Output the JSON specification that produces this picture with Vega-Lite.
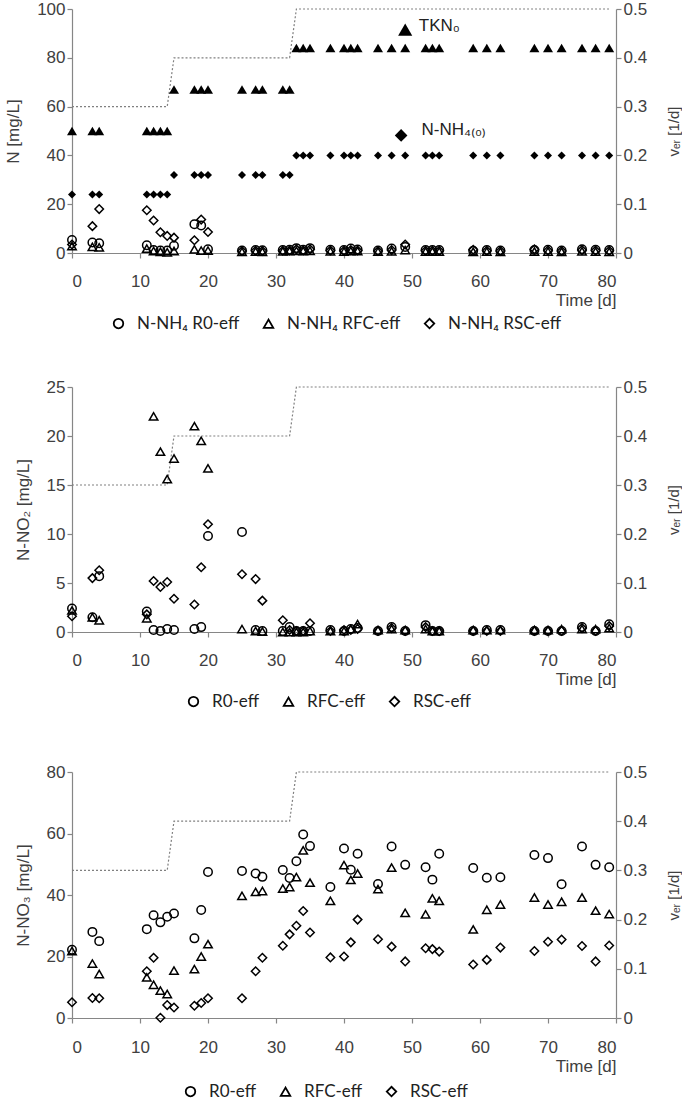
{
  "$schema": "https://vega.github.io/schema/vega-lite/v6.json",
  "padding": {"left": 4, "top": 0, "right": 0, "bottom": 0},
  "spacing": 46,
  "config": {
    "view": {"stroke": null},
    "font": "Liberation Sans",
    "axis": {"grid": false, "domainColor": "#868686", "tickColor": "#868686", "labelColor": "#404040", "titleColor": "#404040", "labelFontSize": 17, "titleFontSize": 17, "titleFontWeight": "normal", "tickSize": 5, "labelFont": "Liberation Sans", "titleFont": "Liberation Sans", "domainWidth": 1.2, "tickWidth": 1.2},
    "legend": {"labelFont": "Lato", "labelFontSize": 17, "labelColor": "#222222", "symbolStrokeColor": "black", "symbolStrokeWidth": 1.8, "symbolSize": 90, "columnPadding": 20, "labelOffset": 10}
  },
  "resolve": {"scale": {"shape": "independent"}, "legend": {"shape": "independent"}},
  "datasets": {
    "ver": [{"t":0,"ver":0.3},{"t":14,"ver":0.3},{"t":15,"ver":0.4},{"t":32,"ver":0.4},{"t":33,"ver":0.5},{"t":79,"ver":0.5}],
    "ann_sym": [{"t":49,"v":91.5,"s":"TKN0"},{"t":48.4,"v":48.2,"s":"NH40"}],
    "ann_txt": [{"t":51,"v":93,"label":"TKN₀"},{"t":51.4,"v":50.5,"label":"N-NH₄₍₀₎"}],
    "p1f": [
      {"t":0,"s":"TKN0","v":50},{"t":3,"s":"TKN0","v":50},{"t":4,"s":"TKN0","v":50},{"t":11,"s":"TKN0","v":50},{"t":12,"s":"TKN0","v":50},{"t":13,"s":"TKN0","v":50},{"t":14,"s":"TKN0","v":50},
      {"t":15,"s":"TKN0","v":67},{"t":18,"s":"TKN0","v":67},{"t":19,"s":"TKN0","v":67},{"t":20,"s":"TKN0","v":67},{"t":25,"s":"TKN0","v":67},{"t":27,"s":"TKN0","v":67},{"t":28,"s":"TKN0","v":67},{"t":31,"s":"TKN0","v":67},{"t":32,"s":"TKN0","v":67},
      {"t":33,"s":"TKN0","v":84},{"t":34,"s":"TKN0","v":84},{"t":35,"s":"TKN0","v":84},{"t":38,"s":"TKN0","v":84},{"t":40,"s":"TKN0","v":84},{"t":41,"s":"TKN0","v":84},{"t":42,"s":"TKN0","v":84},{"t":45,"s":"TKN0","v":84},{"t":47,"s":"TKN0","v":84},{"t":49,"s":"TKN0","v":84},{"t":52,"s":"TKN0","v":84},{"t":53,"s":"TKN0","v":84},{"t":54,"s":"TKN0","v":84},{"t":59,"s":"TKN0","v":84},{"t":61,"s":"TKN0","v":84},{"t":63,"s":"TKN0","v":84},{"t":68,"s":"TKN0","v":84},{"t":70,"s":"TKN0","v":84},{"t":72,"s":"TKN0","v":84},{"t":75,"s":"TKN0","v":84},{"t":77,"s":"TKN0","v":84},{"t":79,"s":"TKN0","v":84},
      {"t":0,"s":"NH40","v":24},{"t":3,"s":"NH40","v":24},{"t":4,"s":"NH40","v":24},{"t":11,"s":"NH40","v":24},{"t":12,"s":"NH40","v":24},{"t":13,"s":"NH40","v":24},{"t":14,"s":"NH40","v":24},
      {"t":15,"s":"NH40","v":32},{"t":18,"s":"NH40","v":32},{"t":19,"s":"NH40","v":32},{"t":20,"s":"NH40","v":32},{"t":25,"s":"NH40","v":32},{"t":27,"s":"NH40","v":32},{"t":28,"s":"NH40","v":32},{"t":31,"s":"NH40","v":32},{"t":32,"s":"NH40","v":32},
      {"t":33,"s":"NH40","v":40},{"t":34,"s":"NH40","v":40},{"t":35,"s":"NH40","v":40},{"t":38,"s":"NH40","v":40},{"t":40,"s":"NH40","v":40},{"t":41,"s":"NH40","v":40},{"t":42,"s":"NH40","v":40},{"t":45,"s":"NH40","v":40},{"t":47,"s":"NH40","v":40},{"t":49,"s":"NH40","v":40},{"t":52,"s":"NH40","v":40},{"t":53,"s":"NH40","v":40},{"t":54,"s":"NH40","v":40},{"t":59,"s":"NH40","v":40},{"t":61,"s":"NH40","v":40},{"t":63,"s":"NH40","v":40},{"t":68,"s":"NH40","v":40},{"t":70,"s":"NH40","v":40},{"t":72,"s":"NH40","v":40},{"t":75,"s":"NH40","v":40},{"t":77,"s":"NH40","v":40},{"t":79,"s":"NH40","v":40}
    ],
    "p1": [
      {"t":0,"s":"R0","v":5.3},{"t":0,"s":"RFC","v":2.8},{"t":0,"s":"RSC","v":3.5},
      {"t":3,"s":"R0","v":4.3},{"t":3,"s":"RFC","v":2.5},{"t":3,"s":"RSC","v":11.0},
      {"t":4,"s":"R0","v":4.0},{"t":4,"s":"RFC","v":2.3},{"t":4,"s":"RSC","v":18.0},
      {"t":11,"s":"R0","v":3.2},{"t":11,"s":"RFC","v":1.8},{"t":11,"s":"RSC","v":17.5},
      {"t":12,"s":"R0","v":1.2},{"t":12,"s":"RFC","v":0.8},{"t":12,"s":"RSC","v":13.3},
      {"t":13,"s":"R0","v":1.0},{"t":13,"s":"RFC","v":0.5},{"t":13,"s":"RSC","v":8.5},
      {"t":14,"s":"R0","v":1.0},{"t":14,"s":"RFC","v":0.3},{"t":14,"s":"RSC","v":7.0},
      {"t":15,"s":"R0","v":3.0},{"t":15,"s":"RFC","v":0.8},{"t":15,"s":"RSC","v":6.3},
      {"t":18,"s":"R0","v":11.8},{"t":18,"s":"RFC","v":1.5},{"t":18,"s":"RSC","v":5.2},
      {"t":19,"s":"R0","v":11.3},{"t":19,"s":"RFC","v":1.0},{"t":19,"s":"RSC","v":13.7},
      {"t":20,"s":"R0","v":1.5},{"t":20,"s":"RFC","v":1.0},{"t":20,"s":"RSC","v":8.6},
      {"t":25,"s":"R0","v":1.0},{"t":25,"s":"RFC","v":0.5},{"t":25,"s":"RSC","v":0.8},
      {"t":27,"s":"R0","v":1.2},{"t":27,"s":"RFC","v":0.6},{"t":27,"s":"RSC","v":0.9},
      {"t":28,"s":"R0","v":1.1},{"t":28,"s":"RFC","v":0.5},{"t":28,"s":"RSC","v":0.8},
      {"t":31,"s":"R0","v":1.2},{"t":31,"s":"RFC","v":0.7},{"t":31,"s":"RSC","v":0.9},
      {"t":32,"s":"R0","v":1.3},{"t":32,"s":"RFC","v":0.8},{"t":32,"s":"RSC","v":1.0},
      {"t":33,"s":"R0","v":2.0},{"t":33,"s":"RFC","v":0.9},{"t":33,"s":"RSC","v":1.5},
      {"t":34,"s":"R0","v":1.3},{"t":34,"s":"RFC","v":0.8},{"t":34,"s":"RSC","v":1.0},
      {"t":35,"s":"R0","v":2.0},{"t":35,"s":"RFC","v":0.9},{"t":35,"s":"RSC","v":1.5},
      {"t":38,"s":"R0","v":1.3},{"t":38,"s":"RFC","v":0.7},{"t":38,"s":"RSC","v":1.0},
      {"t":40,"s":"R0","v":1.2},{"t":40,"s":"RFC","v":0.6},{"t":40,"s":"RSC","v":0.9},
      {"t":41,"s":"R0","v":1.8},{"t":41,"s":"RFC","v":0.8},{"t":41,"s":"RSC","v":1.2},
      {"t":42,"s":"R0","v":1.4},{"t":42,"s":"RFC","v":0.8},{"t":42,"s":"RSC","v":1.0},
      {"t":45,"s":"R0","v":1.0},{"t":45,"s":"RFC","v":0.6},{"t":45,"s":"RSC","v":0.8},
      {"t":47,"s":"R0","v":1.8},{"t":47,"s":"RFC","v":0.7},{"t":47,"s":"RSC","v":1.2},
      {"t":49,"s":"R0","v":2.5},{"t":49,"s":"RFC","v":1.2},{"t":49,"s":"RSC","v":3.5},
      {"t":52,"s":"R0","v":1.2},{"t":52,"s":"RFC","v":0.6},{"t":52,"s":"RSC","v":0.9},
      {"t":53,"s":"R0","v":1.2},{"t":53,"s":"RFC","v":0.6},{"t":53,"s":"RSC","v":0.9},
      {"t":54,"s":"R0","v":1.2},{"t":54,"s":"RFC","v":0.6},{"t":54,"s":"RSC","v":0.9},
      {"t":59,"s":"R0","v":0.9},{"t":59,"s":"RFC","v":0.5},{"t":59,"s":"RSC","v":1.3},
      {"t":61,"s":"R0","v":1.2},{"t":61,"s":"RFC","v":0.6},{"t":61,"s":"RSC","v":0.9},
      {"t":63,"s":"R0","v":1.0},{"t":63,"s":"RFC","v":0.5},{"t":63,"s":"RSC","v":0.8},
      {"t":68,"s":"R0","v":1.2},{"t":68,"s":"RFC","v":0.6},{"t":68,"s":"RSC","v":1.5},
      {"t":70,"s":"R0","v":1.3},{"t":70,"s":"RFC","v":0.6},{"t":70,"s":"RSC","v":1.0},
      {"t":72,"s":"R0","v":1.0},{"t":72,"s":"RFC","v":0.5},{"t":72,"s":"RSC","v":0.8},
      {"t":75,"s":"R0","v":1.5},{"t":75,"s":"RFC","v":0.7},{"t":75,"s":"RSC","v":1.2},
      {"t":77,"s":"R0","v":1.3},{"t":77,"s":"RFC","v":0.6},{"t":77,"s":"RSC","v":1.0},
      {"t":79,"s":"R0","v":1.2},{"t":79,"s":"RFC","v":0.5},{"t":79,"s":"RSC","v":0.9}
    ],
    "p2": [
      {"t":0,"s":"R0","v":2.4},{"t":0,"s":"RFC","v":2.2},{"t":0,"s":"RSC","v":1.6},
      {"t":3,"s":"R0","v":1.5},{"t":3,"s":"RFC","v":1.5},{"t":3,"s":"RSC","v":5.5},
      {"t":4,"s":"R0","v":5.7},{"t":4,"s":"RFC","v":1.2},{"t":4,"s":"RSC","v":6.3},
      {"t":11,"s":"R0","v":2.1},{"t":11,"s":"RFC","v":1.4},{"t":11,"s":"RSC","v":1.8},
      {"t":12,"s":"R0","v":0.2},{"t":12,"s":"RFC","v":22.0},{"t":12,"s":"RSC","v":5.2},
      {"t":13,"s":"R0","v":0.1},{"t":13,"s":"RFC","v":18.4},{"t":13,"s":"RSC","v":4.6},
      {"t":14,"s":"R0","v":0.3},{"t":14,"s":"RFC","v":15.6},{"t":14,"s":"RSC","v":5.1},
      {"t":15,"s":"R0","v":0.2},{"t":15,"s":"RFC","v":17.7},{"t":15,"s":"RSC","v":3.4},
      {"t":18,"s":"R0","v":0.3},{"t":18,"s":"RFC","v":21.0},{"t":18,"s":"RSC","v":2.8},
      {"t":19,"s":"R0","v":0.5},{"t":19,"s":"RFC","v":19.5},{"t":19,"s":"RSC","v":6.6},
      {"t":20,"s":"R0","v":9.8},{"t":20,"s":"RFC","v":16.7},{"t":20,"s":"RSC","v":11.0},
      {"t":25,"s":"R0","v":10.2},{"t":25,"s":"RFC","v":0.3},{"t":25,"s":"RSC","v":5.9},
      {"t":27,"s":"R0","v":0.2},{"t":27,"s":"RFC","v":0.1},{"t":27,"s":"RSC","v":5.4},
      {"t":28,"s":"R0","v":0.1},{"t":28,"s":"RFC","v":0.05},{"t":28,"s":"RSC","v":3.2},
      {"t":31,"s":"R0","v":0.1},{"t":31,"s":"RFC","v":0.0},{"t":31,"s":"RSC","v":1.2},
      {"t":32,"s":"R0","v":0.5},{"t":32,"s":"RFC","v":0.0},{"t":32,"s":"RSC","v":0.2},
      {"t":33,"s":"R0","v":0.1},{"t":33,"s":"RFC","v":0.0},{"t":33,"s":"RSC","v":0.1},
      {"t":34,"s":"R0","v":0.1},{"t":34,"s":"RFC","v":0.0},{"t":34,"s":"RSC","v":0.1},
      {"t":35,"s":"R0","v":0.1},{"t":35,"s":"RFC","v":0.1},{"t":35,"s":"RSC","v":0.9},
      {"t":38,"s":"R0","v":0.2},{"t":38,"s":"RFC","v":0.1},{"t":38,"s":"RSC","v":0.1},
      {"t":40,"s":"R0","v":0.1},{"t":40,"s":"RFC","v":0.1},{"t":40,"s":"RSC","v":0.2},
      {"t":41,"s":"R0","v":0.3},{"t":41,"s":"RFC","v":0.3},{"t":41,"s":"RSC","v":0.2},
      {"t":42,"s":"R0","v":0.4},{"t":42,"s":"RFC","v":0.8},{"t":42,"s":"RSC","v":0.3},
      {"t":45,"s":"R0","v":0.1},{"t":45,"s":"RFC","v":0.2},{"t":45,"s":"RSC","v":0.1},
      {"t":47,"s":"R0","v":0.5},{"t":47,"s":"RFC","v":0.3},{"t":47,"s":"RSC","v":0.4},
      {"t":49,"s":"R0","v":0.1},{"t":49,"s":"RFC","v":0.2},{"t":49,"s":"RSC","v":0.1},
      {"t":52,"s":"R0","v":0.7},{"t":52,"s":"RFC","v":0.3},{"t":52,"s":"RSC","v":0.5},
      {"t":53,"s":"R0","v":0.1},{"t":53,"s":"RFC","v":0.1},{"t":53,"s":"RSC","v":0.1},
      {"t":54,"s":"R0","v":0.1},{"t":54,"s":"RFC","v":0.1},{"t":54,"s":"RSC","v":0.1},
      {"t":59,"s":"R0","v":0.1},{"t":59,"s":"RFC","v":0.2},{"t":59,"s":"RSC","v":0.1},
      {"t":61,"s":"R0","v":0.2},{"t":61,"s":"RFC","v":0.2},{"t":61,"s":"RSC","v":0.1},
      {"t":63,"s":"R0","v":0.2},{"t":63,"s":"RFC","v":0.2},{"t":63,"s":"RSC","v":0.1},
      {"t":68,"s":"R0","v":0.1},{"t":68,"s":"RFC","v":0.2},{"t":68,"s":"RSC","v":0.1},
      {"t":70,"s":"R0","v":0.1},{"t":70,"s":"RFC","v":0.2},{"t":70,"s":"RSC","v":0.1},
      {"t":72,"s":"R0","v":0.1},{"t":72,"s":"RFC","v":0.3},{"t":72,"s":"RSC","v":0.1},
      {"t":75,"s":"R0","v":0.5},{"t":75,"s":"RFC","v":0.3},{"t":75,"s":"RSC","v":0.4},
      {"t":77,"s":"R0","v":0.1},{"t":77,"s":"RFC","v":0.3},{"t":77,"s":"RSC","v":0.1},
      {"t":79,"s":"R0","v":0.8},{"t":79,"s":"RFC","v":0.4},{"t":79,"s":"RSC","v":0.6}
    ],
    "p3": [
      {"t":0,"s":"R0","v":22.2},{"t":0,"s":"RFC","v":21.8},{"t":0,"s":"RSC","v":5.1},
      {"t":3,"s":"R0","v":28.0},{"t":3,"s":"RFC","v":17.7},{"t":3,"s":"RSC","v":6.5},
      {"t":4,"s":"R0","v":25.0},{"t":4,"s":"RFC","v":14.3},{"t":4,"s":"RSC","v":6.4},
      {"t":11,"s":"R0","v":28.9},{"t":11,"s":"RFC","v":13.2},{"t":11,"s":"RSC","v":15.2},
      {"t":12,"s":"R0","v":33.4},{"t":12,"s":"RFC","v":10.8},{"t":12,"s":"RSC","v":19.6},
      {"t":13,"s":"R0","v":31.1},{"t":13,"s":"RFC","v":8.9},{"t":13,"s":"RSC","v":0.1},
      {"t":14,"s":"R0","v":32.9},{"t":14,"s":"RFC","v":7.8},{"t":14,"s":"RSC","v":4.2},
      {"t":15,"s":"R0","v":34.0},{"t":15,"s":"RFC","v":15.4},{"t":15,"s":"RSC","v":3.4},
      {"t":18,"s":"R0","v":25.9},{"t":18,"s":"RFC","v":15.9},{"t":18,"s":"RSC","v":4.0},
      {"t":19,"s":"R0","v":35.1},{"t":19,"s":"RFC","v":20.0},{"t":19,"s":"RSC","v":4.9},
      {"t":20,"s":"R0","v":47.5},{"t":20,"s":"RFC","v":24.0},{"t":20,"s":"RSC","v":6.4},
      {"t":25,"s":"R0","v":47.8},{"t":25,"s":"RFC","v":39.7},{"t":25,"s":"RSC","v":6.4},
      {"t":27,"s":"R0","v":47.0},{"t":27,"s":"RFC","v":41.0},{"t":27,"s":"RSC","v":15.2},
      {"t":28,"s":"R0","v":45.9},{"t":28,"s":"RFC","v":41.3},{"t":28,"s":"RSC","v":19.6},
      {"t":31,"s":"R0","v":48.1},{"t":31,"s":"RFC","v":42.1},{"t":31,"s":"RSC","v":23.5},
      {"t":32,"s":"R0","v":45.5},{"t":32,"s":"RFC","v":42.6},{"t":32,"s":"RSC","v":27.2},
      {"t":33,"s":"R0","v":51.0},{"t":33,"s":"RFC","v":45.8},{"t":33,"s":"RSC","v":30.0},
      {"t":34,"s":"R0","v":59.7},{"t":34,"s":"RFC","v":54.5},{"t":34,"s":"RSC","v":34.8},
      {"t":35,"s":"R0","v":55.9},{"t":35,"s":"RFC","v":44.0},{"t":35,"s":"RSC","v":27.8},
      {"t":38,"s":"R0","v":42.6},{"t":38,"s":"RFC","v":38.1},{"t":38,"s":"RSC","v":19.7},
      {"t":40,"s":"R0","v":55.1},{"t":40,"s":"RFC","v":49.7},{"t":40,"s":"RSC","v":20.0},
      {"t":41,"s":"R0","v":48.2},{"t":41,"s":"RFC","v":44.9},{"t":41,"s":"RSC","v":24.6},
      {"t":42,"s":"R0","v":53.4},{"t":42,"s":"RFC","v":47.0},{"t":42,"s":"RSC","v":32.0},
      {"t":45,"s":"R0","v":43.6},{"t":45,"s":"RFC","v":41.9},{"t":45,"s":"RSC","v":25.6},
      {"t":47,"s":"R0","v":55.8},{"t":47,"s":"RFC","v":48.9},{"t":47,"s":"RSC","v":23.2},
      {"t":49,"s":"R0","v":49.8},{"t":49,"s":"RFC","v":34.2},{"t":49,"s":"RSC","v":18.4},
      {"t":52,"s":"R0","v":49.0},{"t":52,"s":"RFC","v":33.7},{"t":52,"s":"RSC","v":22.7},
      {"t":53,"s":"R0","v":45.0},{"t":53,"s":"RFC","v":38.9},{"t":53,"s":"RSC","v":22.4},
      {"t":54,"s":"R0","v":53.4},{"t":54,"s":"RFC","v":38.1},{"t":54,"s":"RSC","v":21.6},
      {"t":59,"s":"R0","v":48.8},{"t":59,"s":"RFC","v":28.8},{"t":59,"s":"RSC","v":17.4},
      {"t":61,"s":"R0","v":45.6},{"t":61,"s":"RFC","v":35.2},{"t":61,"s":"RSC","v":18.9},
      {"t":63,"s":"R0","v":45.8},{"t":63,"s":"RFC","v":36.9},{"t":63,"s":"RSC","v":22.9},
      {"t":68,"s":"R0","v":53.0},{"t":68,"s":"RFC","v":39.2},{"t":68,"s":"RSC","v":21.8},
      {"t":70,"s":"R0","v":52.0},{"t":70,"s":"RFC","v":36.9},{"t":70,"s":"RSC","v":24.8},
      {"t":72,"s":"R0","v":43.5},{"t":72,"s":"RFC","v":37.8},{"t":72,"s":"RSC","v":25.5},
      {"t":75,"s":"R0","v":55.8},{"t":75,"s":"RFC","v":39.2},{"t":75,"s":"RSC","v":23.4},
      {"t":77,"s":"R0","v":49.8},{"t":77,"s":"RFC","v":34.9},{"t":77,"s":"RSC","v":18.4},
      {"t":79,"s":"R0","v":49.0},{"t":79,"s":"RFC","v":33.8},{"t":79,"s":"RSC","v":23.6}
    ]
  },
  "vconcat": [
    {
      "width": 544, "height": 244,
      "encoding": {"x": {"field": "t", "type": "quantitative", "scale": {"domain": [0, 80]}, "axis": {"values": [0,10,20,30,40,50,60,70,80], "title": "Time [d]", "titleAnchor": "end", "titlePadding": 3, "labelPadding": 15}}},
      "layer": [
        {"data": {"name": "ver"}, "mark": {"type": "line", "color": "#808080", "strokeDash": [2, 2], "strokeWidth": 1.2},
         "encoding": {"y": {"field": "ver", "type": "quantitative", "scale": {"domain": [0, 0.5]}, "axis": {"orient": "right", "values": [0,0.1,0.2,0.3,0.4,0.5], "labelExpr": "datum.value == 0 ? '0' : format(datum.value, '.1f')", "title": "vₑᵣ [1/d]", "titleFontSize": 15, "titleAngle": 270, "titleBaseline": "top", "titlePadding": 20}}}},
        {"encoding": {"y": {"field": "v", "type": "quantitative", "scale": {"domain": [0, 100]}, "axis": {"orient": "left", "values": [0,20,40,60,80,100], "title": "N [mg/L]", "titlePadding": 14}}},
         "layer": [
           {"data": {"name": "p1f"}, "transform": [{"filter": "datum.s == 'TKN0'"}], "mark": {"type": "point", "shape": "triangle-up", "filled": true, "color": "black", "size": 100, "opacity": 1}},
           {"data": {"name": "p1f"}, "transform": [{"filter": "datum.s == 'NH40'"}], "mark": {"type": "point", "shape": "diamond", "filled": true, "color": "black", "size": 64, "opacity": 1}},
           {"data": {"name": "p1"}, "mark": {"type": "point", "filled": false, "color": "black", "strokeWidth": 1.5, "size": 72, "opacity": 1},
            "encoding": {"shape": {"field": "s", "type": "nominal", "scale": {"domain": ["R0", "RFC", "RSC"], "range": ["circle", "triangle-up", "diamond"]}, "legend": {"orient": "none", "legendX": 38, "legendY": 306, "direction": "horizontal", "title": null, "labelExpr": "'N-NH₄ ' + datum.label + '-eff'"}}}},
           {"data": {"name": "ann_sym"}, "transform": [{"filter": "datum.s == 'TKN0'"}], "mark": {"type": "point", "shape": "triangle-up", "filled": true, "color": "black", "size": 200, "opacity": 1}},
           {"data": {"name": "ann_sym"}, "transform": [{"filter": "datum.s == 'NH40'"}], "mark": {"type": "point", "shape": "diamond", "filled": true, "color": "black", "size": 160, "opacity": 1}},
           {"data": {"name": "ann_txt"}, "mark": {"type": "text", "align": "left", "baseline": "middle", "font": "Liberation Sans", "fontSize": 17, "color": "#222222"}, "encoding": {"text": {"field": "label"}}}
         ]}
      ],
      "resolve": {"scale": {"y": "independent"}}
    },
    {
      "spacing": 53,
      "resolve": {"scale": {"shape": "independent"}, "legend": {"shape": "independent"}},
      "vconcat": [
        {
          "width": 544, "height": 245,
          "encoding": {"x": {"field": "t", "type": "quantitative", "scale": {"domain": [0, 80]}, "axis": {"values": [0,10,20,30,40,50,60,70,80], "title": "Time [d]", "titleAnchor": "end", "titlePadding": 3, "labelPadding": 15}}},
          "layer": [
            {"data": {"name": "ver"}, "mark": {"type": "line", "color": "#808080", "strokeDash": [2, 2], "strokeWidth": 1.2},
             "encoding": {"y": {"field": "ver", "type": "quantitative", "scale": {"domain": [0, 0.5]}, "axis": {"orient": "right", "values": [0,0.1,0.2,0.3,0.4,0.5], "labelExpr": "datum.value == 0 ? '0' : format(datum.value, '.1f')", "title": "vₑᵣ [1/d]", "titleFontSize": 15, "titleAngle": 270, "titleBaseline": "top", "titlePadding": 20}}}},
            {"data": {"name": "p2"}, "mark": {"type": "point", "filled": false, "color": "black", "strokeWidth": 1.5, "size": 72, "opacity": 1},
             "encoding": {
               "y": {"field": "v", "type": "quantitative", "scale": {"domain": [0, 25]}, "axis": {"orient": "left", "values": [0,5,10,15,20,25], "title": "N-NO₂ [mg/L]", "titlePadding": 14}},
               "shape": {"field": "s", "type": "nominal", "scale": {"domain": ["R0", "RFC", "RSC"], "range": ["circle", "triangle-up", "diamond"]}, "legend": {"orient": "none", "legendX": 113, "legendY": 306, "direction": "horizontal", "title": null, "labelExpr": "datum.label + '-eff'"}}}}
          ],
          "resolve": {"scale": {"y": "independent"}}
        },
        {
          "width": 544, "height": 246,
          "encoding": {"x": {"field": "t", "type": "quantitative", "scale": {"domain": [0, 80]}, "axis": {"values": [0,10,20,30,40,50,60,70,80], "title": "Time [d]", "titleAnchor": "end", "titlePadding": 3, "labelPadding": 16}}},
          "layer": [
            {"data": {"name": "ver"}, "mark": {"type": "line", "color": "#808080", "strokeDash": [2, 2], "strokeWidth": 1.2},
             "encoding": {"y": {"field": "ver", "type": "quantitative", "scale": {"domain": [0, 0.5]}, "axis": {"orient": "right", "values": [0,0.1,0.2,0.3,0.4,0.5], "labelExpr": "datum.value == 0 ? '0' : format(datum.value, '.1f')", "title": "vₑᵣ [1/d]", "titleFontSize": 15, "titleAngle": 270, "titleBaseline": "top", "titlePadding": 20}}}},
            {"data": {"name": "p3"}, "mark": {"type": "point", "filled": false, "color": "black", "strokeWidth": 1.5, "size": 72, "opacity": 1},
             "encoding": {
               "y": {"field": "v", "type": "quantitative", "scale": {"domain": [0, 80]}, "axis": {"orient": "left", "values": [0,20,40,60,80], "title": "N-NO₃ [mg/L]", "titlePadding": 14}},
               "shape": {"field": "s", "type": "nominal", "scale": {"domain": ["R0", "RFC", "RSC"], "range": ["circle", "triangle-up", "diamond"]}, "legend": {"orient": "none", "legendX": 110, "legendY": 311, "direction": "horizontal", "title": null, "labelExpr": "datum.label + '-eff'"}}}}
          ],
          "resolve": {"scale": {"y": "independent"}}
        }
      ]
    }
  ]
}
